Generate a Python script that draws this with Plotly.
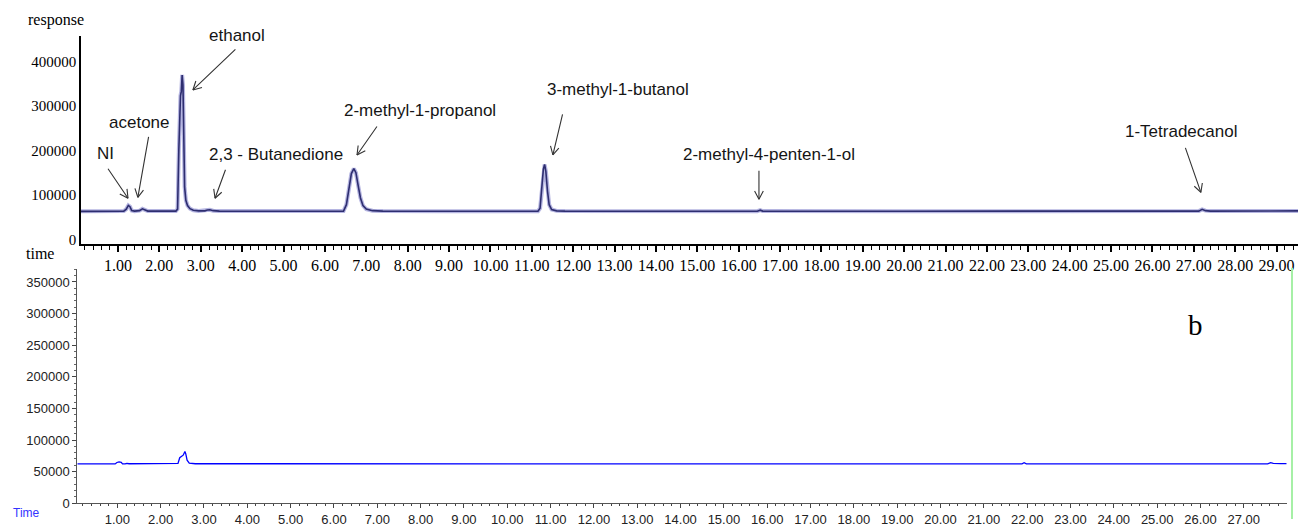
import math
import plotly.graph_objects as go

# ---------------- data ----------------
# panel a (top): retention time (min) and detector response
time_a = [0.10, 1.00, 1.14, 1.20, 1.25, 1.29, 1.33, 1.40, 1.52, 1.59, 1.65, 1.72,
          2.40, 2.44, 2.47, 2.49, 2.51, 2.53, 2.55, 2.57, 2.59, 2.61, 2.64, 2.68,
          2.74, 2.82, 2.95, 3.10, 3.16, 3.22, 3.30, 3.45, 5.00,
          6.45, 6.52, 6.58, 6.64, 6.70, 6.75, 6.80, 6.86, 6.92, 7.00, 7.15, 7.40,
          9.00, 11.15, 11.20, 11.24, 11.28, 11.31, 11.34, 11.38, 11.42, 11.48,
          11.60, 11.80, 14.00, 16.45, 16.52, 16.58, 20.00, 24.00, 27.12, 27.20,
          27.28, 27.40, 28.95, 29.02, 29.10, 29.52]
resp_a = [63000, 63200, 63500, 68000, 76200, 73500, 65000, 63500, 64500, 68700, 66000, 63500,
          63500, 68000, 200000, 308000, 323000, 333000, 370000, 348000, 198000, 118000, 88000, 76000,
          69000, 65500, 64000, 64000, 66000, 66500, 64500, 63500, 63200,
          63500, 78000, 113000, 148000, 158900, 150000, 123000, 93000, 76000, 68000, 64500, 63500,
          63300, 63300, 70000, 113000, 158000, 168400, 153000, 108000, 78000, 67000,
          64000, 63500, 63300, 63300, 65500, 63500, 63300, 63500, 63500, 67400,
          64500, 63500, 64000, 65000, 64000, 64000]

# panel b (bottom)
time_b = [0.076, 0.95, 0.99, 1.04, 1.09, 1.12, 1.18, 1.22, 1.27, 1.55, 1.60, 1.65,
          2.20, 2.26, 2.33, 2.40, 2.44, 2.48, 2.52, 2.56, 2.58, 2.61, 2.66, 2.80,
          5.00, 10.00, 17.20, 21.88, 21.93, 21.98, 27.55, 27.62, 27.68, 27.75, 27.85, 27.99]
resp_b = [62200, 62200, 64500, 65500, 64800, 62300, 62300, 63000, 62500, 62400, 63000, 62400,
          62400, 63200, 62600, 63000, 72000, 74500, 76000, 82000, 78000, 68000, 63500, 62500,
          62300, 62400, 62400, 62400, 64000, 62400, 62400, 64200, 63000, 63200, 62600, 62600]

# compound names and the peak they point to (time, response at arrow tip)
compounds = ["NI", "acetone", "ethanol", "2,3 - Butanedione", "2-methyl-1-propanol",
             "3-methyl-1-butanol", "2-methyl-4-penten-1-ol", "1-Tetradecanol"]
peak_time = [1.242, 1.48, 2.81, 3.345, 6.776, 11.51, 16.49, 27.17]
peak_resp = [92400, 94600, 336200, 92400, 189900, 189900, 90200, 105700]

top_ticks = list(range(1, 30))
top_yticks = [0, 100000, 200000, 300000, 400000]
bot_ticks = list(range(1, 28))
bot_yticks = [0, 50000, 100000, 150000, 200000, 250000, 300000, 350000]

# ---------------- layout helpers (positions / styles) ----------------
W, H = 1298, 527
label_px = [(106, 156), (139, 124), (237, 36), (276, 157),
            (420, 112), (618, 91), (769, 157), (1181, 134)]
arrow_tail = [(-21, -31), (11, -62), (44, -42), (11, -30), (21, -30), (10, -42), (0, -30), (-16, -46)]

fig = go.Figure()
fig.add_trace(go.Scatter(x=time_a, y=resp_a, mode="lines", xaxis="x", yaxis="y",
                         line=dict(color="rgba(120,120,200,0.55)", width=4), hoverinfo="skip",
                         showlegend=False))
fig.add_trace(go.Scatter(x=time_a, y=resp_a, mode="lines", xaxis="x", yaxis="y",
                         line=dict(color="#2e2e70", width=1.6), showlegend=False))
fig.add_trace(go.Scatter(x=time_b, y=resp_b, mode="lines", xaxis="x2", yaxis="y2",
                         line=dict(color="#0000ff", width=1.3), showlegend=False))

serif = "Liberation Serif, Times New Roman, serif"
sans = "Liberation Sans, Arial, sans-serif"

fig.update_layout(
    width=W, height=H, autosize=False,
    margin=dict(l=0, r=0, t=0, b=0, pad=0),
    paper_bgcolor="white", plot_bgcolor="white",
    xaxis=dict(domain=[81 / W, 1.0], anchor="y", range=[0.106, 29.517],
               tickmode="array", tickvals=top_ticks, tickformat=".2f",
               ticks="outside", ticklen=6, tickwidth=1.5, tickcolor="black",
               minor=dict(dtick=0.2, tick0=0, ticks="outside", ticklen=4, tickwidth=1.2, tickcolor="black"),
               showline=True, linecolor="black", linewidth=1.5, showgrid=False, zeroline=False,
               tickfont=dict(family=serif, size=16, color="black")),
    yaxis=dict(domain=[1 - 248 / H, 1 - 37 / H], anchor="x", range=[-11080, 456700],
               tickmode="array", tickvals=top_yticks, tickformat="d", ticks="",
               showline=True, linecolor="black", linewidth=1.5, showgrid=False, zeroline=False,
               tickfont=dict(family=serif, size=15, color="black")),
    xaxis2=dict(domain=[77.3 / W, 1286.7 / W], anchor="y2", range=[0.076, 27.99],
                tickmode="array", tickvals=bot_ticks, tickformat=".2f",
                ticks="outside", ticklen=4, tickwidth=1, tickcolor="#444",
                minor=dict(dtick=0.2, tick0=0, ticks="outside", ticklen=2, tickwidth=1, tickcolor="#444"),
                showline=True, linecolor="#555", linewidth=1, showgrid=False, zeroline=False,
                tickfont=dict(family=sans, size=13, color="#222")),
    yaxis2=dict(domain=[1 - 511 / H, 1 - 273 / H], anchor="x2", range=[0, 370716],
                tickmode="array", tickvals=bot_yticks, tickformat="d",
                ticks="outside", ticklen=4, tickwidth=1, tickcolor="#444",
                minor=dict(dtick=10000, tick0=0, ticks="outside", ticklen=2, tickwidth=1, tickcolor="#666"),
                showline=True, linecolor="#555", linewidth=1, showgrid=False, zeroline=False,
                tickfont=dict(family=sans, size=13, color="#222")),
)

ann = []
for name, (px, py) in zip(compounds, label_px):
    ann.append(dict(x=px / W, y=1 - py / H, xref="paper", yref="paper", text=name, showarrow=False,
                    font=dict(family=sans, size=17, color="#151515"),
                    xanchor="center", yanchor="middle"))
wing_len, wing_ang = 11, math.radians(28)
for hx, hy, (tx, ty) in zip(peak_time, peak_resp, arrow_tail):
    ann.append(dict(x=hx, y=hy, xref="x", yref="y", text="", showarrow=True,
                    arrowhead=0, arrowwidth=1.1, arrowcolor="#333", ax=tx, ay=ty,
                    standoff=0, startstandoff=0))
    L = math.hypot(tx, ty)
    ux, uy = tx / L, ty / L
    for s in (1, -1):
        c, sn = math.cos(s * wing_ang), math.sin(s * wing_ang)
        wx = (ux * c - uy * sn) * wing_len
        wy = (ux * sn + uy * c) * wing_len
        ann.append(dict(x=hx, y=hy, xref="x", yref="y", text="", showarrow=True,
                        arrowhead=0, arrowwidth=1.1, arrowcolor="#333", ax=wx, ay=wy,
                        standoff=0, startstandoff=0))
ann += [
    dict(x=56 / W, y=1 - 20 / H, xref="paper", yref="paper", text="response", showarrow=False,
         font=dict(family=serif, size=16, color="black"), xanchor="center", yanchor="middle"),
    dict(x=40 / W, y=1 - 257 / H, xref="paper", yref="paper", text="time", showarrow=False,
         font=dict(family=serif, size=16, color="black"), xanchor="center", yanchor="middle"),
    dict(x=26 / W, y=1 - 521 / H, xref="paper", yref="paper", text="Time", showarrow=False,
         font=dict(family=sans, size=12, color="#3333ff"), xanchor="center", yanchor="middle"),
    dict(x=1195 / W, y=1 - 330 / H, xref="paper", yref="paper", text="b", showarrow=False,
         font=dict(family=serif, size=29, color="black"), xanchor="center", yanchor="middle"),
]
fig.update_layout(annotations=ann)
fig.add_shape(type="line", xref="paper", yref="paper", x0=1292 / W, x1=1292 / W,
              y0=0, y1=1 - 272 / H, line=dict(color="#a6f0a6", width=2))

post = """
document.documentElement.style.margin='0';
document.documentElement.style.overflow='hidden';
document.body.style.margin='0';
document.body.style.overflow='hidden';
"""
fig.write_html("out.html", config={"displayModeBar": False}, post_script=post)
